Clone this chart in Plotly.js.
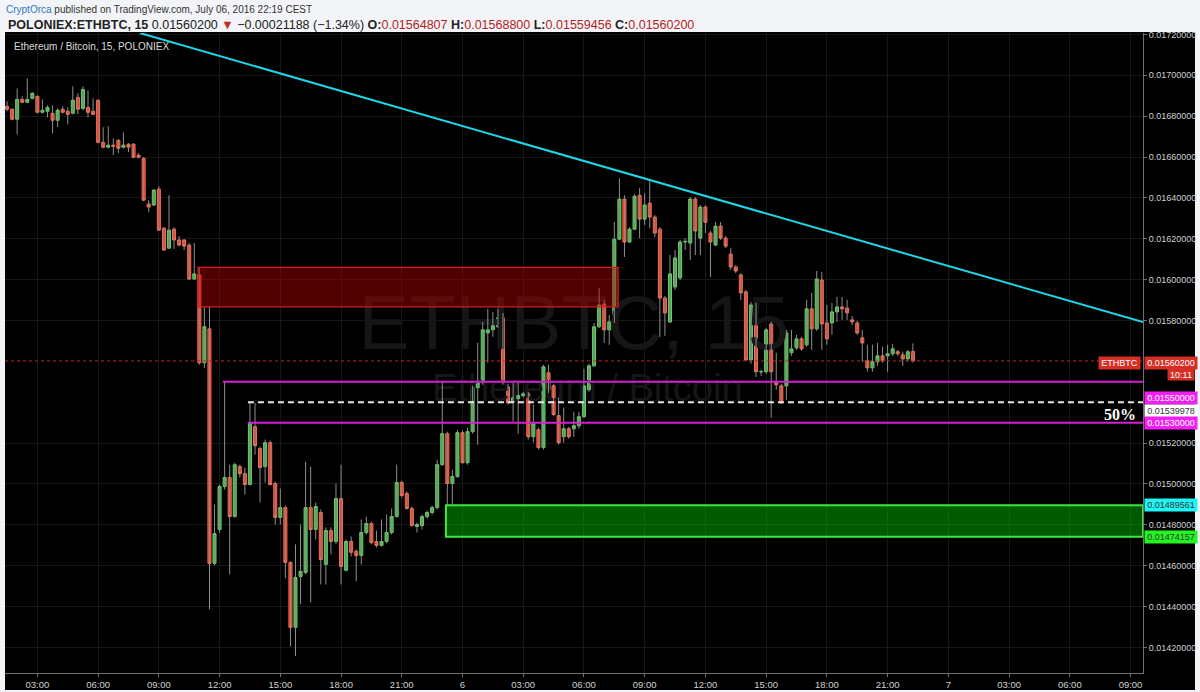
<!DOCTYPE html>
<html><head><meta charset="utf-8">
<script src="https://cdn.plot.ly/plotly-3.0.1.min.js"></script>
<style>html,body{margin:0;padding:0;background:#f2f4f7;}#chart{width:1200px;height:692px;}</style>
</head><body><div id="chart"></div>
<script>
// ---- data (ETHBTC, 15 min, POLONIEX) ----
const firstCandle = [2016, 6, 5, 1, 30]; // 2016-07-05 01:30, 15-minute bars
const open = [0.016848,0.016834,0.016785,0.016882,0.016868,0.016887,0.016897,0.016819,0.016824,0.016814,
0.016780,0.016834,0.016824,0.016814,0.016892,0.016838,0.016843,0.016824,0.016878,0.016672,
0.016648,0.016658,0.016682,0.016648,0.016663,0.016663,0.016609,0.016594,0.016370,0.016365,
0.016443,0.016252,0.016154,0.016247,0.016194,0.016194,0.016169,0.016003,0.016023,0.015593,
0.015759,0.014611,0.014777,0.014987,0.015031,0.014840,0.015085,0.015050,0.014997,0.015280,
0.015173,0.015085,0.015202,0.015002,0.014836,0.014884,0.014616,0.014298,0.014547,0.014567,
0.014884,0.014777,0.014860,0.014606,0.014772,0.014718,0.014928,0.014577,0.014718,0.014670,
0.014650,0.014762,0.014806,0.014718,0.014699,0.014718,0.014762,0.014840,0.015007,0.014953,
0.014880,0.014792,0.014796,0.014840,0.014860,0.014884,0.015094,0.015246,0.015002,0.015036,
0.015251,0.015104,0.015256,0.015471,0.015495,0.015739,0.015754,0.015769,0.015813,0.015475,
0.015402,0.015417,0.015432,0.015441,0.015231,0.015265,0.015178,0.015544,0.015480,0.015334,
0.015231,0.015270,0.015270,0.015285,0.015329,0.015461,0.015578,0.015769,0.015881,0.015754,
0.015793,0.016198,0.016394,0.016184,0.016247,0.016413,0.016296,0.016374,0.016306,0.016247,
0.015910,0.015793,0.015964,0.016008,0.016184,0.016179,0.016394,0.016203,0.016355,0.016228,
0.016169,0.016262,0.016203,0.016125,0.016062,0.016023,0.015940,0.015607,0.015876,0.015548,
0.015549,0.015783,0.015495,0.015480,0.015480,0.015642,0.015666,0.015710,0.015681,0.015857,
0.015759,0.015998,0.015788,0.015788,0.015842,0.015866,0.015861,0.015803,0.015788,0.015715,
0.015602,0.015568,0.015598,0.015627,0.015627,0.015637,0.015647,0.015632,0.015612,0.01564807];
const high = [0.016873,0.016838,0.016936,0.016897,0.016985,0.016917,0.016902,0.016882,0.016853,0.016853,
0.016838,0.016848,0.016843,0.016946,0.016912,0.016946,0.016926,0.016887,0.016882,0.016746,
0.016751,0.016692,0.016687,0.016721,0.016667,0.016667,0.016619,0.016599,0.016389,0.016443,
0.016457,0.016257,0.016413,0.016257,0.016213,0.016198,0.016179,0.016179,0.016057,0.015866,
0.015866,0.014899,0.014997,0.015500,0.015094,0.015104,0.015094,0.015080,0.015397,0.015397,
0.015182,0.015217,0.015212,0.015011,0.014977,0.014894,0.014621,0.014704,0.014801,0.015109,
0.015085,0.014909,0.014875,0.014787,0.014787,0.015002,0.015094,0.014728,0.014743,0.014680,
0.014826,0.014840,0.014816,0.014772,0.014826,0.014850,0.014880,0.015094,0.015016,0.014963,
0.014889,0.014811,0.014850,0.014870,0.014894,0.015119,0.015500,0.015256,0.015070,0.015265,
0.015261,0.015275,0.015480,0.015690,0.015793,0.015857,0.015842,0.015857,0.015837,0.015490,
0.015495,0.015495,0.015451,0.015451,0.015388,0.015275,0.015583,0.015583,0.015490,0.015422,
0.015373,0.015280,0.015353,0.015353,0.015563,0.015588,0.015788,0.015959,0.015901,0.015827,
0.016282,0.016496,0.016413,0.016257,0.016418,0.016448,0.016423,0.016482,0.016316,0.016257,
0.015920,0.016120,0.016145,0.016194,0.016203,0.016404,0.016404,0.016365,0.016365,0.016238,
0.016282,0.016282,0.016213,0.016154,0.016071,0.016032,0.015949,0.015891,0.015886,0.015559,
0.015764,0.015793,0.015642,0.015490,0.015754,0.015754,0.015729,0.015720,0.015901,0.015935,
0.016042,0.016037,0.015876,0.015886,0.015915,0.015915,0.015901,0.015822,0.015798,0.015754,
0.015681,0.015681,0.015690,0.015671,0.015681,0.015686,0.015656,0.015647,0.015656,0.01568800];
const low = [0.016824,0.016780,0.016711,0.016863,0.016863,0.016882,0.016814,0.016814,0.016794,0.016716,
0.016746,0.016814,0.016760,0.016809,0.016809,0.016829,0.016794,0.016804,0.016667,0.016643,
0.016643,0.016609,0.016619,0.016643,0.016624,0.016594,0.016594,0.016384,0.016330,0.016360,
0.016238,0.016140,0.016150,0.016150,0.016164,0.016145,0.015998,0.015998,0.015583,0.015568,
0.014386,0.014601,0.014762,0.014972,0.014557,0.014836,0.015031,0.014948,0.014992,0.015143,
0.014909,0.015007,0.014992,0.014801,0.014801,0.014538,0.014205,0.014157,0.014411,0.014557,
0.014420,0.014728,0.014508,0.014508,0.014655,0.014704,0.014508,0.014572,0.014645,0.014523,
0.014606,0.014752,0.014704,0.014689,0.014694,0.014709,0.014752,0.014836,0.014933,0.014875,
0.014792,0.014762,0.014777,0.014831,0.014850,0.014875,0.015089,0.014899,0.014899,0.015031,
0.015099,0.015094,0.015246,0.015192,0.015485,0.015593,0.015720,0.015764,0.015485,0.015388,
0.015305,0.015246,0.015422,0.015217,0.015202,0.015168,0.015168,0.015446,0.015334,0.015192,
0.015202,0.015221,0.015231,0.015270,0.015324,0.015451,0.015573,0.015764,0.015690,0.015681,
0.015788,0.016194,0.016111,0.016179,0.016242,0.016203,0.016267,0.016252,0.016208,0.015720,
0.015725,0.015788,0.015949,0.015998,0.016145,0.016096,0.016120,0.016120,0.016228,0.016013,
0.016164,0.016194,0.016154,0.016047,0.016032,0.015901,0.015602,0.015588,0.015524,0.015529,
0.015539,0.015324,0.015461,0.015392,0.015412,0.015627,0.015656,0.015651,0.015671,0.015656,
0.015749,0.015656,0.015681,0.015730,0.015793,0.015803,0.015803,0.015778,0.015730,0.015598,
0.015549,0.015549,0.015578,0.015593,0.015549,0.015627,0.015627,0.015578,0.015598,0.01559456];
const close = [0.016834,0.016785,0.016882,0.016868,0.016882,0.016912,0.016819,0.016829,0.016843,0.016780,
0.016829,0.016819,0.016809,0.016878,0.016834,0.016931,0.016819,0.016809,0.016672,0.016648,
0.016658,0.016653,0.016643,0.016658,0.016648,0.016599,0.016599,0.016389,0.016355,0.016438,
0.016242,0.016145,0.016242,0.016194,0.016169,0.016164,0.016003,0.016028,0.015593,0.015769,
0.014611,0.014757,0.014987,0.015031,0.014840,0.015094,0.015050,0.014997,0.015300,0.015187,
0.015080,0.015202,0.014997,0.014836,0.014884,0.014616,0.014298,0.014542,0.014572,0.014884,
0.014777,0.014889,0.014630,0.014772,0.014718,0.014928,0.014596,0.014718,0.014665,0.014650,
0.014762,0.014806,0.014713,0.014699,0.014718,0.014762,0.014840,0.015007,0.014943,0.014880,
0.014796,0.014801,0.014840,0.014860,0.014884,0.015094,0.015246,0.015002,0.015036,0.015251,
0.015104,0.015256,0.015471,0.015495,0.015754,0.015754,0.015774,0.015813,0.015495,0.015397,
0.015422,0.015432,0.015441,0.015231,0.015295,0.015178,0.015573,0.015461,0.015339,0.015202,
0.015270,0.015231,0.015285,0.015329,0.015480,0.015578,0.015769,0.015876,0.015754,0.015793,
0.016198,0.016394,0.016184,0.016247,0.016408,0.016296,0.016365,0.016306,0.016228,0.015910,
0.015837,0.016028,0.016106,0.016184,0.016187,0.016394,0.016238,0.016355,0.016281,0.016184,
0.016262,0.016203,0.016164,0.016062,0.016042,0.015935,0.015607,0.015876,0.015549,0.015550,
0.015754,0.015549,0.015485,0.015397,0.015739,0.015661,0.015710,0.015661,0.015857,0.015759,
0.016003,0.015783,0.015710,0.015842,0.015866,0.015857,0.015837,0.015793,0.015739,0.015690,
0.015568,0.015598,0.015627,0.015602,0.015637,0.015661,0.015637,0.015612,0.015647,0.01560200];

// axes
const xRange = ['2016-07-05 01:24', '2016-07-07 09:37'];
const yRange = [0.0140745, 0.0172071];
const xTickVals = ['2016-07-05 03:00','2016-07-05 06:00','2016-07-05 09:00','2016-07-05 12:00','2016-07-05 15:00','2016-07-05 18:00','2016-07-05 21:00','2016-07-06 00:00','2016-07-06 03:00','2016-07-06 06:00','2016-07-06 09:00','2016-07-06 12:00','2016-07-06 15:00','2016-07-06 18:00','2016-07-06 21:00','2016-07-07 00:00','2016-07-07 03:00','2016-07-07 06:00','2016-07-07 09:00'];
const xTickText = ['03:00','06:00','09:00','12:00','15:00','18:00','21:00','6','03:00','06:00','09:00','12:00','15:00','18:00','21:00','7','03:00','06:00','09:00'];
const yTickVals = [0.0142,0.0144,0.0146,0.0148,0.0150,0.0152,0.0158,0.0160,0.0162,0.0164,0.0166,0.0168,0.0170,0.0172];

// drawings
const trendX = ['2016-07-05 08:04', '2016-07-07 09:37'];
const trendY = [0.017207, 0.015792];
const redZoneX = ['2016-07-05 10:56', '2016-07-06 07:41'];
const redZoneY = [0.015867, 0.016060];
const greenZoneX = ['2016-07-05 23:11', '2016-07-07 09:37'];
const greenZoneY = [0.01474157, 0.01489561];
const levelPrices = [0.01550000, 0.01530000];
const levelStarts = ['2016-07-05 12:10', '2016-07-05 13:24'];
const halfPrice = 0.01539978;
const halfStart = '2016-07-05 13:24';
const watermarkText = ['ETHBTC, 15', 'Ethereum / Bitcoin'];
const watermarkX = ['2016-07-06 05:30', '2016-07-06 06:10'];
const watermarkY = [0.015753, 0.015450];
const changeText = '\u22120.00021188 (\u22121.34%)';
const countdown = '10:11';

// ---- build ----
const pad = n => String(n).padStart(2, '0');
const t0 = Date.UTC(firstCandle[0], firstCandle[1], firstCandle[2], firstCandle[3], firstCandle[4]);
const times = open.map((_, i) => {
  const d = new Date(t0 + i * 15 * 60000);
  return d.getUTCFullYear() + '-' + pad(d.getUTCMonth() + 1) + '-' + pad(d.getUTCDate()) + ' ' + pad(d.getUTCHours()) + ':' + pad(d.getUTCMinutes());
});
const bodyTop = open.map((o, i) => Math.max(o, close[i]));
const bodyBot = open.map((o, i) => Math.min(o, close[i]));
const wickX = [], wickY = [];
times.forEach((t, i) => { wickX.push(t, t, null); wickY.push(low[i], high[i], null); });
const last = close.length - 1;
const lastPrice = close[last];

const SANS = 'Liberation Sans, Arial, sans-serif';

const traces = [
  {type: 'scatter', mode: 'text', x: watermarkX, y: watermarkY, text: watermarkText,
   textfont: {family: SANS, size: [76, 38], color: '#161616'},
   textposition: 'middle center', hoverinfo: 'skip', cliponaxis: false},
  {type: 'scatter', mode: 'lines', x: wickX, y: wickY, line: {color: '#8f8f8f', width: 1}, hoverinfo: 'skip'},
  {type: 'candlestick', x: times, open: open, high: bodyTop, low: bodyBot, close: close,
   increasing: {line: {color: '#62d162', width: 1}, fillcolor: '#3fa845'},
   decreasing: {line: {color: '#ff6b4f', width: 1}, fillcolor: '#e0331f'},
   whiskerwidth: 0, hoverinfo: 'skip'},
  {type: 'scatter', mode: 'lines', x: [xRange[0], xRange[1]], y: [lastPrice, lastPrice],
   line: {color: '#c0271f', width: 1, dash: 'dot'}, hoverinfo: 'skip'},
  {type: 'scatter', mode: 'lines', x: trendX, y: trendY, line: {color: '#1fd6e6', width: 2}, hoverinfo: 'skip'},
  {type: 'scatter', mode: 'lines', x: [levelStarts[0], xRange[1]], y: [levelPrices[0], levelPrices[0]],
   line: {color: '#d41fd4', width: 2}, hoverinfo: 'skip'},
  {type: 'scatter', mode: 'lines', x: [levelStarts[1], xRange[1]], y: [levelPrices[1], levelPrices[1]],
   line: {color: '#d41fd4', width: 2}, hoverinfo: 'skip'},
  {type: 'scatter', mode: 'lines', x: [halfStart, xRange[1]], y: [halfPrice, halfPrice],
   line: {color: '#e6e6e6', width: 2, dash: '6px,4px'}, hoverinfo: 'skip'}
];

function priceBox(y, text, bg, fg, yshift) {
  return {xref: 'paper', x: 1, xanchor: 'left', xshift: 1, yref: 'y', y: y, yanchor: 'middle', yshift: yshift || 0,
          text: text, showarrow: false, bgcolor: bg, width: 50, height: 10, borderpad: 1, align: 'center',
          font: {family: SANS, size: 9, color: fg}};
}
const red = '#d42e26';
const annotations = [
  {xref: 'paper', yref: 'paper', x: -0.001, y: 1.036, xanchor: 'left', yanchor: 'middle', showarrow: false,
   text: '<span style="color:#2f78c0">CryptOrca</span> published on TradingView.com, July 06, 2016 22:19 CEST',
   font: {family: SANS, size: 10, color: '#333'}},
  {xref: 'paper', yref: 'paper', x: 0.0005, y: 1.0125, xanchor: 'left', yanchor: 'middle', showarrow: false,
   text: '<b>POLONIEX:ETHBTC, 15</b> ' + lastPrice.toFixed(8) + ' <span style="color:#c62828">\u25BC</span> ' + changeText +
     ' <b>O:</b><span style="color:#b71c1c">' + open[last].toFixed(8) + '</span> <b>H:</b><span style="color:#b71c1c">' + high[last].toFixed(8) +
     '</span> <b>L:</b><span style="color:#b71c1c">' + low[last].toFixed(8) + '</span> <b>C:</b><span style="color:#b71c1c">' + close[last].toFixed(8) + '</span>',
   font: {family: SANS, size: 12.5, color: '#222'}},
  {xref: 'paper', yref: 'paper', x: 0.006, y: 0.979, xanchor: 'left', yanchor: 'middle', showarrow: false,
   text: 'Ethereum / Bitcoin, 15, POLONIEX', font: {family: SANS, size: 10, color: '#dcdcdc'}},
  {xref: 'paper', x: 0.9956, xanchor: 'right', yref: 'y', y: halfPrice, yanchor: 'top', yshift: -2, showarrow: false,
   text: '<b>50%</b>', font: {family: 'Liberation Serif, DejaVu Serif, serif', size: 16, color: '#ffffff'}},
  {xref: 'paper', x: 1, xanchor: 'right', xshift: -2, yref: 'y', y: lastPrice, yanchor: 'middle', yshift: -2,
   text: 'ETHBTC', showarrow: false, bgcolor: red, width: 39, height: 10, borderpad: 1,
   font: {family: SANS, size: 9, color: '#fff'}},
  priceBox(lastPrice, lastPrice.toFixed(8), red, '#fff', -2),
  {xref: 'paper', x: 1.0457, xanchor: 'right', yref: 'y', y: lastPrice, yanchor: 'middle', yshift: -14,
   text: countdown, showarrow: false, bgcolor: red, width: 24, height: 9, borderpad: 1,
   font: {family: SANS, size: 9, color: '#fff'}},
  priceBox(levelPrices[0], levelPrices[0].toFixed(8), '#f21ff2', '#fff', -16),
  priceBox(halfPrice, halfPrice.toFixed(8), '#ffffff', '#333', -9),
  priceBox(levelPrices[1], levelPrices[1].toFixed(8), '#f21ff2', '#fff', 0),
  priceBox(greenZoneY[1], greenZoneY[1].toFixed(8), '#1ff5f5', '#333', 0),
  priceBox(greenZoneY[0], greenZoneY[0].toFixed(8), '#22f522', '#333', 0)
];

const shapes = [
  {type: 'rect', xref: 'paper', yref: 'paper', x0: 0, x1: 1.0457, y0: -0.0266, y1: 1.0016,
   fillcolor: '#000', line: {width: 0}, layer: 'below'},
  {type: 'rect', xref: 'x', yref: 'y', x0: redZoneX[0], x1: redZoneX[1], y0: redZoneY[0], y1: redZoneY[1],
   fillcolor: 'rgba(190,0,0,0.42)', line: {color: '#d81c1c', width: 1.3}, layer: 'above'},
  {type: 'rect', xref: 'x', yref: 'y', x0: greenZoneX[0], x1: greenZoneX[1], y0: greenZoneY[0], y1: greenZoneY[1],
   fillcolor: 'rgba(0,200,0,0.45)', line: {color: '#3ee83e', width: 2}, layer: 'above'},
  {type: 'rect', xref: 'paper', yref: 'paper', x0: -0.01, x1: 1.06, y0: 1.0016, y1: 1.06,
   fillcolor: '#f2f4f7', line: {width: 0}, layer: 'above'}
];

const layout = {
  width: 1200, height: 692,
  margin: {l: 5, r: 57, t: 33, b: 19, pad: 0},
  paper_bgcolor: '#f2f4f7', plot_bgcolor: '#000',
  showlegend: false, hovermode: false, dragmode: false,
  boxgap: 0.25, boxgroupgap: 0.2,
  font: {family: SANS, size: 9, color: '#cfcfcf'},
  xaxis: {type: 'date', range: xRange, tickmode: 'array', tickvals: xTickVals, ticktext: xTickText,
          showgrid: true, gridcolor: '#171717', zeroline: false, showline: true, linecolor: '#707070',
          ticks: 'outside', ticklen: 3, tickcolor: '#707070', tickfont: {family: SANS, size: 9.5, color: '#d0d0d0'},
          rangeslider: {visible: false}, fixedrange: true},
  yaxis: {side: 'right', range: yRange, tickmode: 'array', tickvals: yTickVals, tickformat: '.8f',
          showgrid: true, gridcolor: '#171717', zeroline: false, showline: true, linecolor: '#707070',
          ticks: 'outside', ticklen: 3, tickcolor: '#707070', tickfont: {family: SANS, size: 9, color: '#d0d0d0'},
          fixedrange: true},
  shapes: shapes,
  annotations: annotations
};

Plotly.newPlot('chart', traces, layout, {displayModeBar: false, staticPlot: true});
</script>
</body></html>
